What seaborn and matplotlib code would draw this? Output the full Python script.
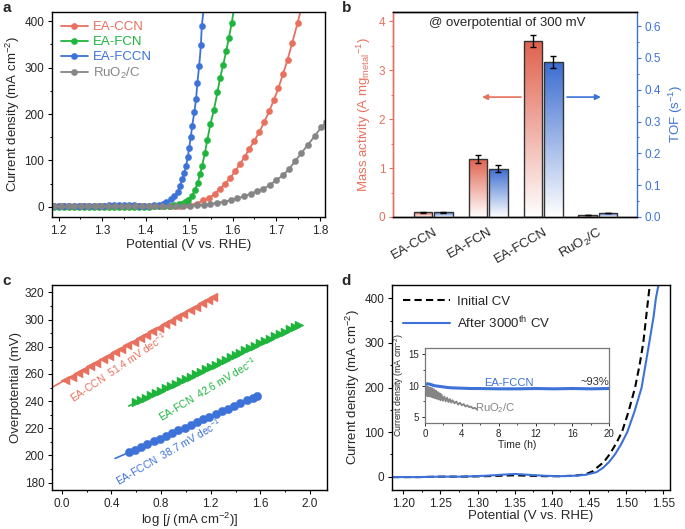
import numpy as np
import pandas as pd
import seaborn as sns
import matplotlib
matplotlib.use("Agg")
import matplotlib.pyplot as plt
from matplotlib.ticker import MultipleLocator
from matplotlib.colors import LinearSegmentedColormap

# ---------------- data ----------------
RED, GREEN, BLUE, GRAY = "#e8705e", "#1fb53d", "#3d72d8", "#858585"

# panel a: LSV curves
v_ccn = [1.190, 1.201, 1.213, 1.224, 1.236, 1.247, 1.259, 1.270, 1.282, 1.293, 1.305, 1.316, 1.328,
         1.339, 1.351, 1.362, 1.374, 1.385, 1.397, 1.408, 1.420, 1.431, 1.443, 1.455, 1.466, 1.478,
         1.489, 1.500, 1.517, 1.533, 1.546, 1.559, 1.571, 1.582, 1.594, 1.606, 1.617, 1.628, 1.638,
         1.649, 1.661, 1.672, 1.684, 1.695, 1.705, 1.716, 1.726, 1.737, 1.749, 1.762]
j_ccn = [1, 1, 1, 1, 1, 1, 1, 1, 1, 1, 1, 1, 1, 1, 1, 1, 1, 1, 1, 1, 1, 1, 1, 1, 2, 2,
         3, 4, 7, 14, 19, 28, 39, 49, 62, 77, 93, 108, 125, 141, 161, 182, 206, 231, 256, 287,
         317, 354, 396, 445]

v_fcn = [1.190, 1.201, 1.213, 1.224, 1.236, 1.247, 1.259, 1.270, 1.282, 1.293, 1.305, 1.316, 1.328,
         1.339, 1.351, 1.362, 1.374, 1.385, 1.397, 1.408, 1.420, 1.431, 1.443, 1.455, 1.466, 1.476,
         1.483, 1.490, 1.497, 1.506, 1.513, 1.520, 1.525, 1.530, 1.536, 1.542, 1.549, 1.557, 1.565,
         1.571, 1.578, 1.585, 1.591, 1.598, 1.606]
j_fcn = [0, 0, 0, 0, 0, 0, 0, 0, 0, 0, 0, 0, 0, 0, 0, 0, 0, 0, 0, 0, 1, 1, 1, 2, 3, 5,
         7, 10, 14, 23, 36, 52, 70, 89, 115, 145, 179, 209, 247, 277, 305, 335, 363, 397, 445]

v_fccn = [1.190, 1.201, 1.213, 1.224, 1.236, 1.247, 1.259, 1.270, 1.282, 1.293, 1.305, 1.316, 1.328,
          1.339, 1.351, 1.362, 1.374, 1.385, 1.397, 1.408, 1.420, 1.431, 1.440, 1.448, 1.458, 1.466,
          1.474, 1.479, 1.484, 1.489, 1.493, 1.497, 1.500, 1.504, 1.507, 1.512, 1.516, 1.519, 1.523,
          1.527, 1.529, 1.536]
j_fccn = [1, 1, 1, 1, 1, 1, 1, 1, 1, 2, 2, 3, 4, 4, 4, 3, 3, 2, 2, 2, 3, 4, 7, 11, 16, 23,
          32, 44, 59, 73, 89, 107, 127, 151, 175, 204, 233, 268, 303, 348, 389, 450]

v_ruo2 = [1.190, 1.205, 1.221, 1.236, 1.252, 1.267, 1.283, 1.298, 1.314, 1.329, 1.345, 1.360, 1.376,
          1.391, 1.407, 1.422, 1.438, 1.453, 1.469, 1.485, 1.501, 1.517, 1.534, 1.549, 1.565, 1.581,
          1.596, 1.611, 1.627, 1.641, 1.656, 1.670, 1.686, 1.699, 1.716, 1.730, 1.743, 1.758, 1.773,
          1.789, 1.804, 1.815]
j_ruo2 = [1, 1, 1, 1, 1, 1, 1, 1, 1, 1, 1, 1, 1, 1, 1, 1, 1, 1, 1, 2, 2, 3, 4, 6, 9, 11,
          14, 18, 23, 28, 34, 39, 47, 57, 68, 82, 98, 116, 134, 153, 172, 182]

# panel b: bars
samples = ["EA-CCN", "EA-FCN", "EA-FCCN", "RuO$_2$/C"]
mass_act = [0.10, 1.19, 3.60, 0.04]
mass_err = [0.01, 0.08, 0.13, 0.005]
tof = [0.015, 0.152, 0.488, 0.012]
tof_err = [0.002, 0.011, 0.019, 0.001]

# panel c: Tafel
x_ccn = [0.03, 0.08, 0.13, 0.18, 0.23, 0.28, 0.33, 0.38, 0.43, 0.48, 0.53, 0.58, 0.63,
         0.68, 0.73, 0.78, 0.83, 0.88, 0.93, 0.98, 1.03, 1.08, 1.13, 1.18, 1.22]
eta_ccn = [255.5, 258.1, 260.6, 263.2, 265.8, 268.4, 270.9, 273.5, 276.1, 278.6, 281.2, 283.8, 286.3,
           288.9, 291.5, 294.0, 296.6, 299.2, 301.7, 304.3, 306.9, 309.4, 312.0, 314.6, 316.7]
fit_ccn_x, fit_ccn_y = [-0.07, 1.22], [250.5, 316.7]

x_fcn = [0.60, 0.64, 0.68, 0.72, 0.76, 0.80, 0.84, 0.88, 0.92, 0.96, 1.00, 1.04, 1.08, 1.12,
         1.16, 1.20, 1.24, 1.28, 1.32, 1.36, 1.40, 1.44, 1.48, 1.52, 1.56, 1.60, 1.64, 1.68,
         1.72, 1.76, 1.80, 1.84, 1.88, 1.91]
eta_fcn = [239.0, 240.7, 242.5, 244.2, 246.0, 247.7, 249.4, 251.2, 252.9, 254.7, 256.4, 258.1,
           259.9, 261.6, 263.4, 265.1, 266.8, 268.6, 270.3, 272.1, 273.8, 275.5, 277.3, 279.0,
           280.8, 282.5, 284.2, 286.0, 287.7, 289.5, 291.2, 292.9, 294.7, 296.0]
fit_fcn_x, fit_fcn_y = [0.54, 1.91], [236.4, 296.0]

x_fccn = [0.54, 0.59, 0.64, 0.69, 0.74, 0.79, 0.84, 0.89, 0.94, 0.99, 1.04, 1.09, 1.14,
          1.19, 1.24, 1.29, 1.34, 1.39, 1.44, 1.49, 1.54, 1.57]
eta_fccn = [202.2, 204.2, 206.3, 208.3, 210.3, 212.3, 214.3, 216.4, 218.4, 220.4, 222.4, 224.4,
            226.5, 228.5, 230.5, 232.5, 234.5, 236.6, 238.6, 240.6, 242.6, 243.8]
fit_fccn_x, fit_fccn_y = [0.43, 1.57], [197.8, 243.8]

# panel d: CV before / after cycling
v_init = [1.185, 1.22, 1.25, 1.28, 1.31, 1.33, 1.35, 1.37, 1.39, 1.41, 1.43, 1.445, 1.455,
          1.4606, 1.47, 1.4777, 1.486, 1.4943, 1.503, 1.512, 1.518, 1.523, 1.5297, 1.536, 1.54]
j_init = [-1, -1, 0, 0, 1, 2, 3, 2, 1, 1, 2, 5, 12, 20, 33, 50, 73, 100, 145, 200, 250,
          300, 400, 490, 550]
v_after = [1.185, 1.22, 1.25, 1.28, 1.31, 1.33, 1.35, 1.37, 1.39, 1.41, 1.43, 1.445, 1.46,
           1.469, 1.477, 1.485, 1.493, 1.5015, 1.511, 1.5208, 1.531, 1.537, 1.540, 1.5435, 1.547]
j_after = [-1, -1, 0, 0, 2, 4, 6, 4, 2, 1, 2, 4, 10, 20, 33, 50, 72, 100, 145, 200, 300,
           360, 400, 430, 480]

# inset: chronoamperometry
t_fccn = [0, 0.3, 0.6, 1, 1.5, 2, 2.5, 3, 4, 5, 6, 8, 10, 12, 14, 16, 18, 20]
i_fccn = [10.2, 10.3, 10.2, 10.0, 9.9, 9.8, 9.7, 9.65, 9.6, 9.55, 9.55, 9.5, 9.5, 9.55, 9.5,
          9.55, 9.5, 9.55]
t_ruo2 = [0, 0.1, 0.2, 0.3, 0.4, 0.5, 0.6, 0.7, 0.8, 0.9, 1.0, 1.1, 1.2, 1.3, 1.4, 1.5, 1.6,
          1.7, 1.8, 1.95, 2.1, 2.25, 2.4, 2.55, 2.7, 2.85, 3.0, 3.2, 3.4, 3.6, 3.8, 4.0, 4.2,
          4.4, 4.6, 4.8, 5.0, 5.2, 5.4, 5.6]
i_ruo2 = [10.0, 8.4, 9.9, 8.3, 9.8, 8.3, 9.7, 8.2, 9.6, 8.1, 9.4, 8.0, 9.2, 7.9, 9.0, 7.8, 8.8,
          7.7, 8.6, 7.6, 8.3, 7.5, 8.1, 7.4, 7.9, 7.3, 7.7, 7.2, 7.5, 7.0, 7.3, 6.9, 7.1,
          6.7, 6.9, 6.6, 6.7, 6.4, 6.5, 6.3]

# ---------------- style ----------------
sns.set_theme(style="ticks")
plt.rcParams["font.family"] = ["Liberation Sans", "DejaVu Sans"]
plt.rcParams["mathtext.fontset"] = "custom"
plt.rcParams["mathtext.rm"] = "Liberation Sans"
plt.rcParams["mathtext.it"] = "Liberation Sans:italic"
plt.rcParams["axes.linewidth"] = 1.0
plt.rcParams["axes.edgecolor"] = "black"
plt.rcParams["xtick.labelsize"] = 8.5
plt.rcParams["ytick.labelsize"] = 8.5
plt.rcParams["axes.labelsize"] = 9.5

fig = plt.figure(figsize=(6.85, 5.29), dpi=100)
ax_a = fig.add_axes([0.0759, 0.5898, 0.3985, 0.3875])
ax_b = fig.add_axes([0.5737, 0.5898, 0.3562, 0.3875])
ax_c = fig.add_axes([0.0759, 0.0737, 0.4015, 0.3875])
ax_d = fig.add_axes([0.5723, 0.0737, 0.4058, 0.3875])
ax_in = fig.add_axes([0.6204, 0.1998, 0.2690, 0.1429])


def style_ticks(ax, size=3):
    ax.tick_params(which="major", direction="out", length=size, width=0.8, color="black", pad=2.5)
    ax.tick_params(which="minor", direction="out", length=size * 0.6, width=0.7, color="black")


# ---------------- panel a ----------------
curves = [("EA-CCN", v_ccn, j_ccn, RED), ("EA-FCN", v_fcn, j_fcn, GREEN),
          ("EA-FCCN", v_fccn, j_fccn, BLUE), ("RuO$_2$/C", v_ruo2, j_ruo2, GRAY)]
for name, v, j, c in curves:
    sns.lineplot(x=v, y=j, ax=ax_a, color=c, lw=1.3, marker="o", markersize=4.5,
                 markeredgecolor=c, markeredgewidth=0.3, sort=False, estimator=None, label=name)
ax_a.set_xlim(1.185, 1.812)
ax_a.set_ylim(-22, 420)
ax_a.xaxis.set_major_locator(MultipleLocator(0.1))
ax_a.xaxis.set_minor_locator(MultipleLocator(0.05))
ax_a.yaxis.set_major_locator(MultipleLocator(100))
ax_a.yaxis.set_minor_locator(MultipleLocator(50))
style_ticks(ax_a)
ax_a.set_xlabel("Potential (V vs. RHE)", labelpad=2)
ax_a.set_ylabel("Current density (mA cm$^{-2}$)", labelpad=2)
leg = ax_a.legend(loc="upper left", frameon=False, fontsize=9.5, handlelength=2.0,
                  labelspacing=0.2, borderaxespad=0.3, handletextpad=0.4)
for txt, (_, _, _, c) in zip(leg.get_texts(), curves):
    txt.set_color(c)

# ---------------- panel b ----------------
pos = np.arange(len(samples))
w = 0.34
ax_b2 = ax_b.twinx()
bars_m = ax_b.bar(pos - 0.185, mass_act, w, facecolor="none", edgecolor="#333333", lw=1.0,
                  yerr=mass_err, capsize=2.5, error_kw=dict(lw=1.0, capthick=1.0, ecolor="black"),
                  zorder=3)
bars_t = ax_b2.bar(pos + 0.185, tof, w, facecolor="none", edgecolor="#333333", lw=1.0,
                   yerr=tof_err, capsize=2.5, error_kw=dict(lw=1.0, capthick=1.0, ecolor="black"),
                   zorder=3)


def gradient(ax, bars, color):
    cmap = LinearSegmentedColormap.from_list("g", ["white", color])
    grad = np.linspace(0, 1, 256).reshape(-1, 1)
    for b in bars:
        x0, y0, bw, bh = b.get_x(), b.get_y(), b.get_width(), b.get_height()
        im = ax.imshow(grad, cmap=cmap, extent=[x0, x0 + bw, y0, y0 + bh], origin="lower",
                       aspect="auto", zorder=2, interpolation="bilinear")
        im.set_clip_path(b)


gradient(ax_b, bars_m, "#e0604c")
gradient(ax_b2, bars_t, "#3a6cd0")
ax_b.set_xlim(-0.73, 3.71)
ax_b.set_ylim(0, 4.19)
ax_b2.set_ylim(0, 0.644)
ax_b.set_xticks(pos)
ax_b.set_xticklabels(samples, rotation=30, ha="right", rotation_mode="anchor", fontsize=9.5)
ax_b.yaxis.set_major_locator(MultipleLocator(1))
ax_b.yaxis.set_minor_locator(MultipleLocator(0.5))
ax_b2.yaxis.set_major_locator(MultipleLocator(0.1))
ax_b2.yaxis.set_minor_locator(MultipleLocator(0.05))
ax_b2.yaxis.set_major_formatter(matplotlib.ticker.FormatStrFormatter("%.1f"))
style_ticks(ax_b)
style_ticks(ax_b2)
ax_b.tick_params(axis="x", length=0, pad=6)
ax_b.tick_params(axis="y", which="both", colors=RED)
ax_b2.tick_params(axis="y", which="both", colors=BLUE)
ax_b.spines["left"].set_color(RED)
ax_b2.spines["left"].set_color(RED)
ax_b2.spines["right"].set_color(BLUE)
ax_b.spines["right"].set_visible(False)
ax_b.set_ylabel("Mass activity (A mg$_{\\mathrm{metal}}$$^{-1}$)", color=RED, labelpad=4)
ax_b2.set_ylabel("TOF (s$^{-1}$)", color=BLUE, labelpad=4)
ax_b2.text(0.467, 0.946, "@ overpotential of 300 mV", transform=ax_b2.transAxes,
           ha="center", va="center", fontsize=9.5)
ax_b2.annotate("", xy=(0.365, 0.585), xytext=(0.525, 0.585), xycoords="axes fraction",
               arrowprops=dict(arrowstyle="-|>", color=RED, lw=1.2, mutation_scale=8,
                               shrinkA=0, shrinkB=0))
ax_b2.annotate("", xy=(0.852, 0.585), xytext=(0.713, 0.585), xycoords="axes fraction",
               arrowprops=dict(arrowstyle="-|>", color=BLUE, lw=1.2, mutation_scale=8,
                               shrinkA=0, shrinkB=0))

# ---------------- panel c ----------------
tafel = [(x_ccn, eta_ccn, fit_ccn_x, fit_ccn_y, RED, "<", 6.5),
         (x_fcn, eta_fcn, fit_fcn_x, fit_fcn_y, GREEN, ">", 6.5),
         (x_fccn, eta_fccn, fit_fccn_x, fit_fccn_y, BLUE, "o", 6.0)]
for xs, ys, fx, fy, c, m, ms in tafel:
    sns.lineplot(x=fx, y=fy, ax=ax_c, color=c, lw=1.2, sort=False, estimator=None)
    sns.scatterplot(x=xs, y=ys, ax=ax_c, color=c, marker=m, s=ms ** 2, edgecolor=c,
                    linewidth=0.3, zorder=3)
ax_c.set_xlim(-0.078, 2.137)
ax_c.set_ylim(174.6, 325.4)
ax_c.xaxis.set_major_locator(MultipleLocator(0.4))
ax_c.xaxis.set_minor_locator(MultipleLocator(0.2))
ax_c.yaxis.set_major_locator(MultipleLocator(20))
ax_c.yaxis.set_minor_locator(MultipleLocator(10))
style_ticks(ax_c)
ax_c.set_xlabel("log [$j$ (mA cm$^{-2}$)]", labelpad=0.5)
ax_c.set_ylabel("Overpotential (mV)", labelpad=2)
ax_c.text(0.46, 264.5, "EA-CCN  51.4 mV dec$^{-1}$", color=RED, rotation=34,
          ha="center", va="center", fontsize=7.5, rotation_mode="anchor")
ax_c.text(1.18, 249.0, "EA-FCN  42.6 mV dec$^{-1}$", color=GREEN, rotation=31,
          ha="center", va="center", fontsize=7.5, rotation_mode="anchor")
ax_c.text(0.86, 202.5, "EA-FCCN  38.7 mV dec$^{-1}$", color=BLUE, rotation=30,
          ha="center", va="center", fontsize=7.5, rotation_mode="anchor")

# ---------------- panel d ----------------
sns.lineplot(x=v_init, y=j_init, ax=ax_d, color="black", lw=1.5, linestyle=(0, (3.5, 2)),
             sort=False, estimator=None, label="Initial CV")
sns.lineplot(x=v_after, y=j_after, ax=ax_d, color=BLUE, lw=1.5, sort=False, estimator=None,
             label="After 3000$^{\\mathrm{th}}$ CV")
ax_d.set_xlim(1.1848, 1.559)
ax_d.set_ylim(-30, 430)
ax_d.xaxis.set_major_locator(MultipleLocator(0.05))
ax_d.xaxis.set_minor_locator(MultipleLocator(0.025))
ax_d.xaxis.set_major_formatter(matplotlib.ticker.FormatStrFormatter("%.2f"))
ax_d.yaxis.set_major_locator(MultipleLocator(100))
ax_d.yaxis.set_minor_locator(MultipleLocator(50))
style_ticks(ax_d)
ax_d.set_xlabel("Potential (V vs. RHE)", labelpad=0.5)
ax_d.set_ylabel("Current density (mA cm$^{-2}$)", labelpad=2)
ax_d.legend(loc="upper left", frameon=False, fontsize=9.5, handlelength=3.6,
            labelspacing=0.5, borderaxespad=0.4, handletextpad=0.5)

# inset
sns.lineplot(x=t_ruo2, y=i_ruo2, ax=ax_in, color=GRAY, lw=1.3, sort=False, estimator=None)
sns.lineplot(x=t_fccn, y=i_fccn, ax=ax_in, color=BLUE, lw=2.2, sort=False, estimator=None)
ax_in.set_xlim(0, 20)
ax_in.set_ylim(4.05, 16.0)
ax_in.xaxis.set_major_locator(MultipleLocator(4))
ax_in.xaxis.set_minor_locator(MultipleLocator(2))
ax_in.yaxis.set_major_locator(MultipleLocator(5))
ax_in.yaxis.set_minor_locator(MultipleLocator(2.5))
ax_in.tick_params(which="major", direction="out", length=2.5, width=0.7, labelsize=7, pad=1.5)
ax_in.tick_params(which="minor", direction="out", length=1.5, width=0.6)
for sp in ax_in.spines.values():
    sp.set_color("#777777")
    sp.set_linewidth(0.9)
ax_in.set_xlabel("Time (h)", fontsize=7.5, labelpad=1)
ax_in.set_ylabel("Current density (mA cm$^{-2}$)", fontsize=6.3, labelpad=2)
ax_in.text(9.1, 10.5, "EA-FCCN", color=BLUE, fontsize=8, ha="center", va="center")
ax_in.text(18.4, 10.6, "~93%", color="#333333", fontsize=8, ha="center", va="center")
ax_in.text(7.6, 6.5, "RuO$_2$/C", color=GRAY, fontsize=8, ha="center", va="center")

# panel letters
for lab, x, y in [("a", 0.003, 0.985), ("b", 0.499, 0.985), ("c", 0.003, 0.468), ("d", 0.499, 0.468)]:
    fig.text(x, y, lab, fontsize=11, fontweight="bold", ha="left", va="center")

fig.savefig("out.png", dpi=100)
